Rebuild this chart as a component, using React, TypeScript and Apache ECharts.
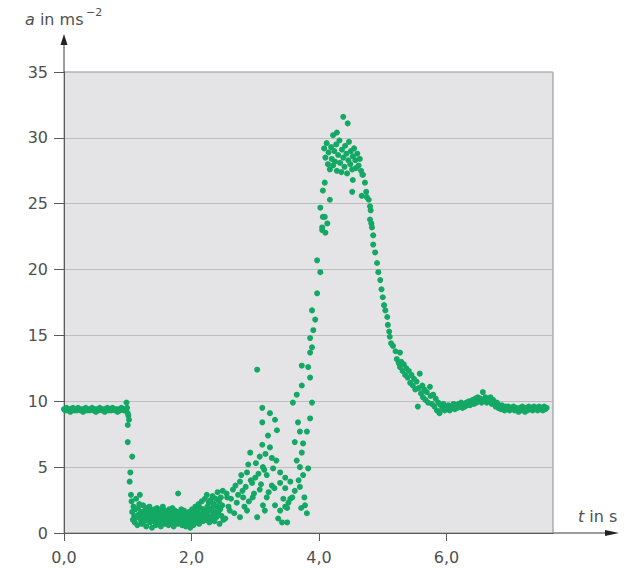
import React, { useEffect, useRef } from "react";
import * as echarts from "echarts";

const xTickValues = [0, 2, 4, 6];
const xMax = 7.67;
const yMax = 35;
const yInterval = 5;

const flatStart: number[][] = [
  [0.0, 9.4], [0.02, 9.3], [0.04, 9.5], [0.06, 9.3], [0.08, 9.4], [0.1, 9.2], [0.12, 9.4], [0.14, 9.5],
  [0.16, 9.3], [0.18, 9.4], [0.2, 9.3], [0.22, 9.5], [0.24, 9.4], [0.26, 9.3], [0.28, 9.4], [0.3, 9.2],
  [0.32, 9.4], [0.34, 9.5], [0.36, 9.3], [0.38, 9.4], [0.4, 9.3], [0.42, 9.4], [0.44, 9.5], [0.46, 9.3],
  [0.48, 9.4], [0.5, 9.2], [0.52, 9.4], [0.54, 9.3], [0.56, 9.5], [0.58, 9.4], [0.6, 9.3], [0.62, 9.4],
  [0.64, 9.2], [0.66, 9.4], [0.68, 9.5], [0.7, 9.3], [0.72, 9.4], [0.74, 9.3], [0.76, 9.5], [0.78, 9.4],
  [0.8, 9.3], [0.82, 9.4], [0.84, 9.2], [0.86, 9.4], [0.88, 9.3], [0.9, 9.5], [0.92, 9.4], [0.94, 9.3],
  [0.96, 9.4], [0.98, 9.9], [0.99, 9.5], [1.0, 9.1], [1.01, 8.9], [1.02, 8.6],
];

const drop: number[][] = [
  [1.0, 8.2], [1.0, 6.9], [1.07, 5.8], [1.04, 4.6], [1.03, 3.9], [1.05, 2.9], [1.19, 2.9],
];

const lowCluster: number[][] = [
  [1.06, 2.4], [1.07, 1.6], [1.08, 1.0], [1.09, 2.0], [1.1, 1.3], [1.11, 0.8], [1.12, 1.8], [1.13, 2.6],
  [1.14, 1.2], [1.15, 0.6], [1.16, 1.9], [1.17, 1.4], [1.18, 2.2], [1.2, 1.0], [1.21, 1.6], [1.22, 0.7],
  [1.23, 1.3], [1.24, 2.1], [1.25, 1.5], [1.26, 0.9], [1.27, 1.7], [1.28, 1.2], [1.29, 0.5], [1.3, 1.9],
  [1.31, 1.4], [1.32, 1.0], [1.33, 1.6], [1.34, 2.0], [1.35, 0.8], [1.36, 1.3], [1.37, 1.7], [1.38, 0.4],
  [1.39, 1.1], [1.4, 1.5], [1.41, 0.9], [1.42, 1.8], [1.43, 1.2], [1.44, 0.6], [1.45, 1.4], [1.46, 1.9],
  [1.47, 1.0], [1.48, 1.6], [1.49, 0.8], [1.5, 1.3], [1.51, 1.7], [1.52, 0.5], [1.53, 1.1], [1.54, 1.5],
  [1.55, 2.0], [1.56, 0.9], [1.57, 1.3], [1.58, 1.7], [1.59, 0.7], [1.6, 1.2], [1.61, 1.6], [1.62, 1.0],
  [1.63, 1.4], [1.64, 0.6], [1.65, 1.8], [1.66, 1.1], [1.67, 1.5], [1.68, 0.8], [1.69, 1.3], [1.7, 1.9],
  [1.71, 1.0], [1.72, 0.5], [1.73, 1.4], [1.74, 1.7], [1.75, 0.9], [1.76, 1.2], [1.77, 1.6], [1.78, 0.7],
  [1.79, 3.0], [1.8, 1.1], [1.81, 1.5], [1.82, 0.8], [1.83, 1.3], [1.84, 1.8], [1.85, 0.6], [1.86, 1.0],
  [1.87, 1.4], [1.88, 1.7], [1.89, 0.9], [1.9, 1.2], [1.91, 0.5], [1.92, 1.5], [1.93, 1.0], [1.94, 1.3],
  [1.95, 0.7], [1.96, 1.6], [1.97, 1.1], [1.98, 0.4], [1.99, 1.4], [2.0, 0.9], [2.01, 1.8], [2.02, 1.2],
  [2.03, 0.6], [2.04, 1.5], [2.05, 1.0], [2.06, 2.0], [2.07, 1.3], [2.08, 0.8], [2.09, 1.7], [2.1, 1.1],
  [2.11, 2.2], [2.12, 0.7], [2.13, 1.4], [2.14, 1.9], [2.15, 1.0], [2.16, 2.4], [2.17, 1.5], [2.18, 0.9],
  [2.19, 1.8], [2.2, 1.2], [2.21, 2.6], [2.22, 1.6], [2.23, 1.0], [2.24, 2.9], [2.25, 2.0], [2.26, 1.3],
  [2.27, 2.3], [2.28, 0.8], [2.29, 1.7], [2.3, 2.5], [2.31, 1.1], [2.32, 1.9], [2.33, 2.8], [2.34, 1.4],
  [2.35, 2.2], [2.36, 0.9], [2.37, 1.6], [2.38, 2.6], [2.39, 1.2], [2.4, 2.0], [2.41, 3.1], [2.42, 1.5],
  [2.43, 2.4], [2.44, 0.7], [2.45, 1.8], [2.46, 2.7], [2.47, 1.3], [2.48, 2.1], [2.49, 3.2], [2.5, 1.0],
];

const spread: number[][] = [
  [2.53, 1.1], [2.55, 3.0], [2.56, 2.7], [2.58, 2.0], [2.6, 1.7], [2.62, 2.6], [2.65, 3.3], [2.67, 1.5],
  [2.69, 3.6], [2.71, 2.3], [2.73, 2.9], [2.76, 3.9], [2.76, 1.2], [2.78, 4.4], [2.8, 3.2], [2.81, 2.7],
  [2.83, 2.0], [2.85, 3.5], [2.87, 4.6], [2.87, 1.7], [2.89, 5.2], [2.9, 2.4], [2.92, 6.1], [2.93, 4.0],
  [2.95, 3.8], [2.96, 2.7], [2.98, 3.0], [3.0, 4.2], [3.01, 5.3], [3.03, 12.4], [3.03, 1.2], [3.05, 4.5],
  [3.07, 5.8], [3.07, 3.3], [3.09, 3.7], [3.11, 9.5], [3.11, 8.4], [3.11, 6.7], [3.12, 5.0], [3.12, 2.1],
  [3.14, 4.8], [3.15, 1.7], [3.16, 6.0], [3.18, 4.4], [3.18, 2.7], [3.2, 7.4], [3.21, 3.1], [3.23, 9.1],
  [3.23, 6.5], [3.26, 5.7], [3.26, 3.6], [3.28, 4.9], [3.3, 3.4], [3.31, 8.6], [3.31, 2.1], [3.33, 5.5],
  [3.34, 7.8], [3.36, 1.1], [3.39, 4.6], [3.39, 3.8], [3.39, 1.7], [3.42, 0.8], [3.44, 2.6], [3.47, 4.2],
  [3.47, 3.4], [3.47, 2.0], [3.5, 0.8], [3.5, 1.9], [3.52, 2.3], [3.55, 3.9], [3.55, 2.6], [3.58, 2.7],
];

const rise: number[][] = [
  [3.59, 9.9], [3.62, 6.9], [3.62, 3.2], [3.65, 10.5], [3.65, 5.5], [3.67, 8.4], [3.68, 4.0], [3.7, 7.7],
  [3.7, 5.0], [3.7, 3.5], [3.72, 1.9], [3.73, 12.7], [3.73, 11.2], [3.73, 6.1], [3.75, 6.8], [3.75, 4.4],
  [3.77, 2.7], [3.78, 2.1], [3.81, 7.7], [3.81, 1.5], [3.83, 12.6], [3.83, 4.9], [3.86, 13.7], [3.86, 11.8],
  [3.86, 8.7], [3.86, 14.8], [3.89, 9.9], [3.89, 14.1], [3.89, 16.9], [3.91, 15.4], [3.94, 16.2],
  [3.97, 18.2], [3.97, 20.7], [4.02, 19.8], [4.02, 24.7], [4.05, 23.0], [4.05, 23.2], [4.06, 24.0],
  [4.06, 26.0], [4.09, 24.0], [4.09, 26.6], [4.1, 22.8], [4.13, 23.5], [4.17, 25.3],
];

const peak: number[][] = [
  [4.08, 29.2], [4.1, 28.5], [4.12, 29.6], [4.14, 28.0], [4.15, 28.9], [4.17, 27.6], [4.19, 29.3],
  [4.2, 28.4], [4.22, 27.9], [4.22, 30.2], [4.24, 29.0], [4.25, 28.2], [4.27, 29.5], [4.28, 27.5],
  [4.28, 30.4], [4.3, 28.7], [4.32, 29.8], [4.33, 28.1], [4.35, 27.4], [4.36, 29.1], [4.38, 28.5],
  [4.38, 31.6], [4.4, 27.8], [4.41, 29.4], [4.43, 28.8], [4.44, 27.3], [4.45, 31.1], [4.46, 28.3],
  [4.47, 29.7], [4.49, 28.0], [4.5, 29.0], [4.52, 27.6], [4.52, 25.9], [4.53, 28.6], [4.53, 26.8],
  [4.55, 29.2], [4.57, 28.3], [4.58, 27.7], [4.6, 28.8], [4.62, 27.9], [4.64, 28.4], [4.66, 27.5],
  [4.67, 25.6], [4.68, 27.2],
];

const fall: number[][] = [
  [4.69, 27.2], [4.72, 26.6], [4.74, 25.9], [4.75, 25.5], [4.78, 25.3], [4.8, 24.8], [4.81, 24.5],
  [4.8, 23.8], [4.82, 23.5], [4.83, 23.2], [4.85, 22.6], [4.85, 21.9], [4.88, 21.3], [4.91, 20.5],
  [4.93, 19.8], [4.96, 19.2], [4.98, 18.5], [5.0, 17.9], [5.02, 17.3], [5.04, 16.9], [5.07, 16.4],
  [5.08, 15.8], [5.1, 15.3], [5.11, 14.9], [5.13, 14.4],
];

const tail: number[][] = [
  [5.16, 14.2], [5.2, 13.8], [5.22, 13.2], [5.25, 12.9], [5.27, 13.7], [5.27, 12.6], [5.29, 13.0],
  [5.31, 12.3], [5.33, 12.8], [5.35, 12.0], [5.37, 12.5], [5.39, 11.8], [5.41, 12.3], [5.43, 11.4],
  [5.45, 12.0], [5.47, 11.2], [5.49, 11.7], [5.51, 10.9], [5.53, 11.5], [5.55, 9.6], [5.56, 11.0],
  [5.58, 12.1], [5.6, 10.6], [5.62, 11.2], [5.63, 10.3], [5.65, 10.9], [5.67, 10.1], [5.69, 10.7],
  [5.71, 9.9], [5.74, 11.1], [5.75, 10.4], [5.77, 9.8], [5.79, 10.5], [5.81, 9.6], [5.83, 10.2],
  [5.85, 9.3], [5.87, 9.9], [5.89, 9.1], [5.91, 9.7], [5.93, 9.4], [5.95, 9.8], [5.97, 9.3],
  [5.99, 9.6], [6.01, 9.4], [6.03, 9.7], [6.05, 9.3], [6.07, 9.6], [6.09, 9.5], [6.11, 9.8],
  [6.13, 9.4], [6.15, 9.7], [6.17, 9.5], [6.19, 9.8], [6.21, 9.6], [6.23, 9.9], [6.25, 9.5],
  [6.27, 9.8], [6.29, 9.6], [6.31, 9.9], [6.33, 9.7], [6.35, 10.0], [6.37, 9.7], [6.39, 9.9],
  [6.41, 10.1], [6.43, 9.8], [6.45, 10.2], [6.47, 9.9], [6.49, 10.3], [6.51, 10.0], [6.53, 10.2],
  [6.55, 9.9], [6.57, 10.7], [6.59, 10.1], [6.61, 10.3], [6.63, 9.9], [6.65, 10.2], [6.67, 10.0],
  [6.69, 10.3], [6.71, 9.8], [6.73, 10.1], [6.75, 9.9], [6.77, 9.6], [6.79, 9.9], [6.81, 9.5],
  [6.83, 9.7], [6.85, 9.4], [6.87, 9.7], [6.89, 9.5], [6.91, 9.3], [6.93, 9.6], [6.95, 9.4],
  [6.97, 9.6], [6.99, 9.3], [7.01, 9.5], [7.03, 9.4], [7.05, 9.6], [7.07, 9.3], [7.09, 9.5],
  [7.11, 9.4], [7.13, 9.2], [7.15, 9.5], [7.17, 9.3], [7.19, 9.6], [7.21, 9.4], [7.23, 9.2],
  [7.25, 9.5], [7.27, 9.3], [7.29, 9.6], [7.31, 9.4], [7.33, 9.5], [7.35, 9.3], [7.37, 9.6],
  [7.39, 9.4], [7.41, 9.5], [7.43, 9.3], [7.45, 9.6], [7.47, 9.4], [7.49, 9.5], [7.51, 9.3],
  [7.53, 9.6], [7.55, 9.4], [7.57, 9.5],
];

const FONT = "DejaVu Sans, sans-serif";
const GREEN = "#14a865";
const TEXT = "#505050";

export default function App() {
  const ref = useRef<HTMLDivElement>(null);
  useEffect(() => {
    document.body.style.margin = "0";
    if (!ref.current) return;
    const chart = echarts.init(ref.current, null, { renderer: "svg" });
    const gl = 64, gr = 80, gt = 72, gb = 35;
    const W = 633, H = 568;
    const x0 = gl, y0 = H - gb, xr = W - gr;
    const data = [...flatStart, ...drop, ...lowCluster, ...spread, ...rise, ...peak, ...fall, ...tail];
    chart.setOption({
      animation: false,
      grid: {
        left: gl, right: gr, top: gt, bottom: gb,
        show: true, backgroundColor: "#e4e4e6", borderColor: "#8c8c8c", borderWidth: 1,
      },
      xAxis: {
        type: "value", min: 0, max: xMax,
        axisLine: { show: true, lineStyle: { color: "#5a5a5a", width: 1 } },
        axisTick: { show: true, length: 8, customValues: xTickValues, lineStyle: { color: "#5a5a5a" } },
        axisLabel: {
          customValues: xTickValues, margin: 16, fontSize: 16, color: TEXT, fontFamily: FONT,
          formatter: (v: number) => v.toFixed(1).replace(".", ","),
        },
        splitLine: { show: false },
      },
      yAxis: {
        type: "value", min: 0, max: yMax, interval: yInterval,
        axisLine: { show: true, lineStyle: { color: "#5a5a5a", width: 1 } },
        axisTick: { show: true, length: 10, lineStyle: { color: "#5a5a5a" } },
        axisLabel: { margin: 16, fontSize: 16, color: TEXT, fontFamily: FONT },
        splitLine: { show: true, lineStyle: { color: "#bdbdbd", width: 1 } },
      },
      series: [
        {
          type: "scatter", data, symbol: "circle", symbolSize: 6,
          itemStyle: { color: GREEN, opacity: 1 },
        },
      ],
      graphic: [
        { type: "line", shape: { x1: x0, y1: gt, x2: x0, y2: 42 }, style: { stroke: "#3a3a3a", lineWidth: 1 } },
        { type: "polygon", shape: { points: [[x0, 34], [x0 - 3.5, 45], [x0 + 3.5, 45]] }, style: { fill: "#222" } },
        { type: "line", shape: { x1: xr, y1: y0, x2: 612, y2: y0 }, style: { stroke: "#3a3a3a", lineWidth: 1 } },
        { type: "polygon", shape: { points: [[619, y0], [605, y0 - 3], [605, y0 + 3]] }, style: { fill: "#222" } },
        {
          type: "text", left: 25, top: 11,
          style: {
            text: "{i|a} in ms", fontSize: 16, fill: TEXT, fontFamily: FONT,
            rich: { i: { fontStyle: "italic", fontSize: 16, fill: TEXT, fontFamily: FONT } },
          },
        },
        { type: "text", left: 86, top: 7, style: { text: "−2", fontSize: 11, fill: TEXT, fontFamily: FONT } },
        {
          type: "text", left: 578, top: 508,
          style: {
            text: "{i|t} in s", fontSize: 16, fill: TEXT, fontFamily: FONT,
            rich: { i: { fontStyle: "italic", fontSize: 16, fill: TEXT, fontFamily: FONT } },
          },
        },
      ],
    });
    return () => chart.dispose();
  }, []);
  return <div ref={ref} style={{ width: 633, height: 568 }} />;
}
